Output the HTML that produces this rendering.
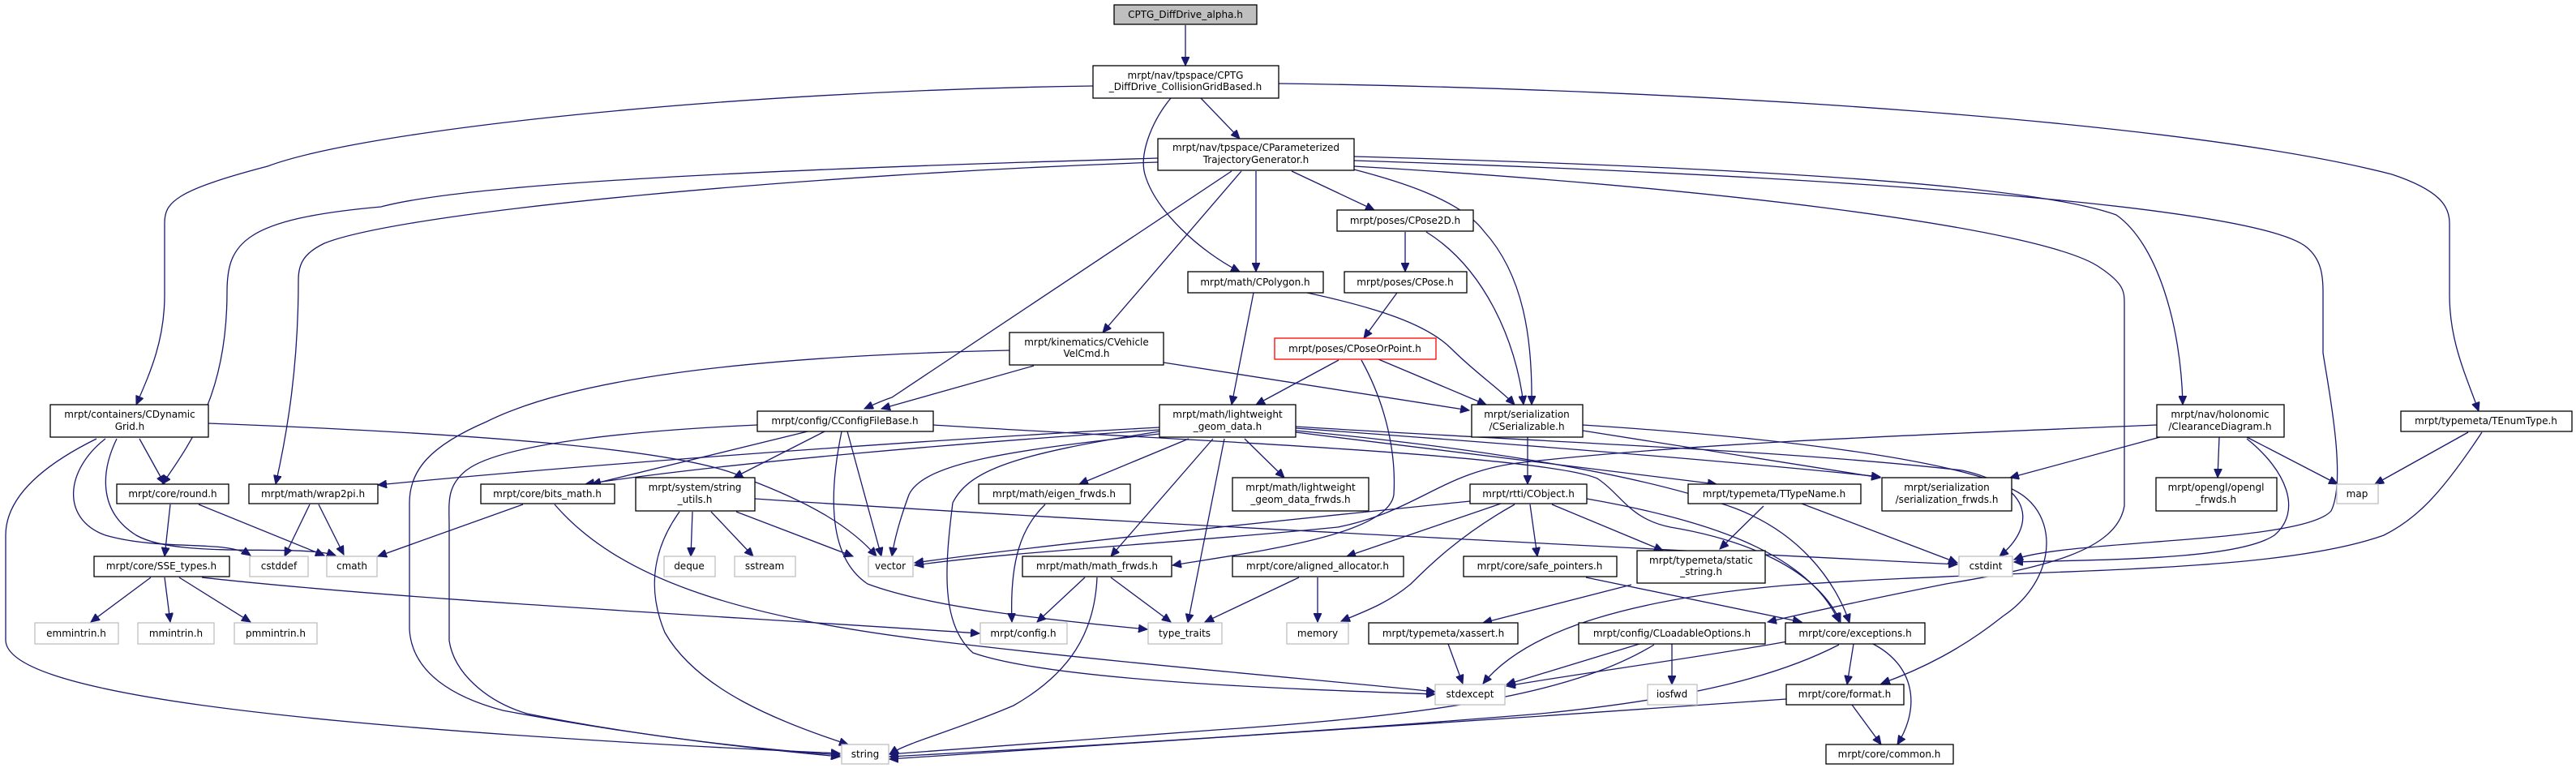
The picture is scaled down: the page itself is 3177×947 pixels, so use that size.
<!DOCTYPE html>
<html><head><meta charset="utf-8"><style>
html,body{margin:0;padding:0;background:#fff;}
svg{display:block;}
text{font-family:"DejaVu Sans","Liberation Sans",sans-serif;font-size:12px;fill:#000;text-anchor:middle;}
.e{fill:none;stroke:#191970;stroke-width:1.3;marker-end:url(#a);}
.n{fill:#fff;stroke:#000;stroke-width:1.3;}
.g{fill:#fff;stroke:#bfbfbf;stroke-width:1.3;}
</style></head><body>
<svg width="3177" height="947" viewBox="0 0 3177 947" xmlns="http://www.w3.org/2000/svg">
<defs><marker id="a" markerUnits="userSpaceOnUse" markerWidth="12" markerHeight="10" refX="11" refY="5" orient="auto"><path d="M0,0 L11,5 L0,10 z" fill="#191970" stroke="#191970"/></marker></defs>

<!-- edges -->
<path class="e" d="M1462,31 L1462,81"/>
<path class="e" d="M1481,121 L1529,171"/>
<path class="e" d="M1444,121 C1420,150 1405,190 1412,215 C1425,260 1480,310 1529,335"/>
<path class="e" d="M1348,106 C900,112 450,160 330,205 C215,235 203,250 203,275 L203,364 C203,420 185,460 168,499"/>
<path class="e" d="M1577,103 C2100,110 2700,150 2950,215 C3010,235 3021,255 3021,275 L3021,364 C3021,420 3040,460 3057,507"/>
<path class="e" d="M1593,211 L1695,259"/>
<path class="e" d="M1549,211 L1549,335"/>
<path class="e" d="M1670,209 C1720,222 1800,245 1830,285 C1880,340 1890,420 1889,499"/>
<path class="e" d="M1759,286 C1830,330 1870,420 1879,499"/>
<path class="e" d="M1612,361 C1700,380 1760,400 1790,430 C1820,460 1850,480 1868,499"/>
<path class="e" d="M1700,443 L1833,499"/>
<path class="e" d="M1435,447 L1812,506"/>
<path class="e" d="M1531,211 L1360,410"/>
<path class="e" d="M1519,211 L1100,490 C1085,495 1075,500 1066,504"/>
<path class="e" d="M1275,451 L1087,504"/>
<path class="e" d="M1428,195 C1100,205 600,220 470,255 C300,270 280,300 280,360 C280,480 240,540 200,597"/>
<path class="e" d="M1428,200 C1000,215 500,260 400,300 C375,312 368,325 368,345 C368,450 355,530 340,597"/>
<path class="e" d="M1670,193 C2100,205 2500,225 2610,265 C2660,300 2690,400 2692,499"/>
<path class="e" d="M1670,198 C2200,215 2780,250 2845,305 C2863,320 2865,340 2865,360 L2865,435 C2870,470 2895,590 2875,630 C2840,670 2550,665 2484,690"/>
<path class="e" d="M1670,205 C2100,230 2520,280 2590,330 C2620,350 2620,360 2620,375 L2620,624 C2610,680 2520,700 2400,720 C2300,740 2230,755 2180,767"/>
<path class="e" d="M1733,286 L1733,335"/>
<path class="e" d="M1723,361 L1682,417"/>
<path class="e" d="M1546,361 L1519,499"/>
<path class="e" d="M1651,444 L1549,499"/>
<path class="e" d="M1679,444 C1710,500 1722,560 1719,610 C1712,660 1550,680 1446,697"/>
<path class="e" d="M2660,524 C2400,535 2100,545 1880,570 C1780,580 1750,630 1650,650 C1450,670 1250,680 1128,697"/>
<path class="e" d="M1813,618 C1600,640 1300,670 1128,694"/>
<path class="e" d="M1466,541 L1331,597"/>
<path class="e" d="M1496,541 L1370,686"/>
<path class="e" d="M1510,541 L1465,768"/>
<path class="e" d="M1535,541 L1584,589"/>
<path class="e" d="M1430,532 C1250,560 1195,580 1175,620 C1165,700 1160,770 1200,805 C1300,840 1600,850 1770,856"/>
<path class="e" d="M1430,535 C1250,555 1140,570 1121,610 C1110,640 1103,665 1100,686"/>
<path class="e" d="M1430,527 C1100,545 700,575 466,598"/>
<path class="e" d="M1430,530 C1200,545 900,570 722,597"/>
<path class="e" d="M1598,533 L2117,597"/>
<path class="e" d="M1598,528 C1900,550 2150,570 2319,588"/>
<path class="e" d="M1598,526 C1900,545 2200,555 2420,580 C2510,600 2510,650 2466,686"/>
<path class="e" d="M1598,531 C1800,550 2000,580 2120,620 C2220,650 2265,720 2281,768"/>
<path class="e" d="M1952,524 C2200,540 2450,570 2500,615 C2540,650 2530,720 2470,760 C2420,800 2370,825 2320,843"/>
<path class="e" d="M1884,539 L1884,597"/>
<path class="e" d="M1952,531 L2319,589"/>
<path class="e" d="M1851,621 L1661,686"/>
<path class="e" d="M1868,622 C1800,660 1760,700 1740,720 C1710,745 1680,755 1654,766"/>
<path class="e" d="M1887,622 L1896,686"/>
<path class="e" d="M1914,622 L2051,679"/>
<path class="e" d="M1957,615 C2100,640 2230,680 2268,767"/>
<path class="e" d="M2175,624 L2121,677"/>
<path class="e" d="M2222,621 L2414,694"/>
<path class="e" d="M1956,712 L2222,767"/>
<path class="e" d="M1786,794 L1804,843"/>
<path class="e" d="M2012,721 L1829,768"/>
<path class="e" d="M2022,794 L1858,844"/>
<path class="e" d="M2062,794 L2062,844"/>
<path class="e" d="M2040,795 C1950,850 1800,880 1500,900 C1300,915 1150,925 1097,930"/>
<path class="e" d="M2210,790 C2100,810 1950,830 1858,846"/>
<path class="e" d="M2286,794 L2278,844"/>
<path class="e" d="M2310,794 C2360,820 2370,870 2340,918"/>
<path class="e" d="M2268,795 C2200,830 2100,860 1900,880 C1600,905 1250,925 1097,933"/>
<path class="e" d="M2284,869 L2320,918"/>
<path class="e" d="M2203,862 C1800,890 1300,925 1097,936"/>
<path class="e" d="M2664,539 L2479,589"/>
<path class="e" d="M2737,539 L2735,589"/>
<path class="e" d="M2771,539 L2883,597"/>
<path class="e" d="M2771,541 C2820,580 2840,630 2805,660 C2760,690 2600,690 2484,693"/>
<path class="e" d="M3044,533 L2929,597"/>
<path class="e" d="M3061,533 C3010,610 2980,640 2940,660 C2800,710 2500,700 2200,722 C2000,740 1880,780 1829,843"/>
<path class="e" d="M172,541 L203,597"/>
<path class="e" d="M144,541 C125,580 120,630 168,660 C220,690 370,670 414,685"/>
<path class="e" d="M130,541 C80,580 75,640 130,660 C200,680 280,665 309,685"/>
<path class="e" d="M119,541 C40,580 7,620 7,660 L7,790 C10,850 300,895 1036,929"/>
<path class="e" d="M257,522 C600,535 850,555 920,590 C1000,620 1050,650 1081,686"/>
<path class="e" d="M210,622 L203,686"/>
<path class="e" d="M245,622 L400,685"/>
<path class="e" d="M382,622 L351,686"/>
<path class="e" d="M393,622 L424,684"/>
<path class="e" d="M645,622 L466,686"/>
<path class="e" d="M684,622 C760,710 900,760 1150,790 C1400,820 1650,840 1770,853"/>
<path class="e" d="M186,712 L112,767"/>
<path class="e" d="M203,712 L210,767"/>
<path class="e" d="M221,712 L309,767"/>
<path class="e" d="M249,712 C500,740 900,760 1208,781"/>
<path class="e" d="M854,631 L852,686"/>
<path class="e" d="M877,631 L929,686"/>
<path class="e" d="M908,631 L1052,686"/>
<path class="e" d="M838,631 C810,670 795,720 820,780 C860,850 960,890 1046,918"/>
<path class="e" d="M931,615 C1300,640 1900,670 2414,696"/>
<path class="e" d="M996,532 L730,597"/>
<path class="e" d="M1017,532 L905,589"/>
<path class="e" d="M1045,532 L1087,686"/>
<path class="e" d="M1038,532 C1020,620 1025,690 1070,720 C1150,750 1300,765 1415,776"/>
<path class="e" d="M934,524 C800,530 620,545 575,580 C550,600 554,620 554,650 L554,790 C560,830 600,865 650,880 C800,910 950,925 1036,931"/>
<path class="e" d="M1151,524 C1400,540 1900,560 1970,590 C2000,610 2010,640 2060,650 C2150,665 2240,700 2270,767"/>
<path class="e" d="M1245,432 C900,440 700,470 600,520 C530,550 505,580 505,620 L505,776 C508,830 560,860 620,876 C800,910 950,925 1036,933"/>
<path class="e" d="M1338,712 L1279,767"/>
<path class="e" d="M1370,712 L1444,767"/>
<path class="e" d="M1353,712 C1350,780 1320,830 1250,870 C1180,900 1120,915 1097,930"/>
<path class="e" d="M1289,622 C1260,650 1245,690 1248,767"/>
<path class="e" d="M1602,712 L1486,767"/>
<path class="e" d="M1625,712 L1625,767"/>

<!-- nodes -->
<rect x="1374" y="6" width="176" height="24" fill="#bfbfbf" stroke="#000" stroke-width="1.3"/><text x="1462" y="22">CPTG_DiffDrive_alpha.h</text>
<rect class="n" x="1348" y="81" width="229" height="40"/><text x="1462" y="97">mrpt/nav/tpspace/CPTG</text><text x="1462" y="111">_DiffDrive_CollisionGridBased.h</text>
<rect class="n" x="1428" y="171" width="242" height="39"/><text x="1549" y="186">mrpt/nav/tpspace/CParameterized</text><text x="1549" y="201">TrajectoryGenerator.h</text>
<rect class="n" x="1649" y="259" width="168" height="26"/><text x="1733" y="276">mrpt/poses/CPose2D.h</text>
<rect class="n" x="1465" y="335" width="167" height="26"/><text x="1548" y="352">mrpt/math/CPolygon.h</text>
<rect class="n" x="1658" y="335" width="151" height="26"/><text x="1733" y="352">mrpt/poses/CPose.h</text>
<rect class="n" x="1245" y="410" width="190" height="40"/><text x="1340" y="426">mrpt/kinematics/CVehicle</text><text x="1340" y="440">VelCmd.h</text>
<rect x="1572" y="417" width="199" height="26" fill="#fff" stroke="#ff0000" stroke-width="1.3"/><text x="1671" y="434">mrpt/poses/CPoseOrPoint.h</text>
<rect class="n" x="1430" y="499" width="168" height="40"/><text x="1514" y="515">mrpt/math/lightweight</text><text x="1514" y="530">_geom_data.h</text>
<rect class="n" x="1815" y="499" width="137" height="40"/><text x="1883" y="515">mrpt/serialization</text><text x="1883" y="530">/CSerializable.h</text>
<rect class="n" x="934" y="507" width="217" height="25"/><text x="1042" y="523">mrpt/config/CConfigFileBase.h</text>
<rect class="n" x="62" y="499" width="195" height="40"/><text x="160" y="515">mrpt/containers/CDynamic</text><text x="160" y="530">Grid.h</text>
<rect class="n" x="2660" y="499" width="157" height="40"/><text x="2738" y="515">mrpt/nav/holonomic</text><text x="2738" y="530">/ClearanceDiagram.h</text>
<rect class="n" x="2961" y="507" width="211" height="25"/><text x="3066" y="523">mrpt/typemeta/TEnumType.h</text>

<rect class="n" x="144" y="597" width="138" height="24"/><text x="213" y="613">mrpt/core/round.h</text>
<rect class="n" x="307" y="597" width="159" height="24"/><text x="386" y="613">mrpt/math/wrap2pi.h</text>
<rect class="n" x="593" y="597" width="165" height="24"/><text x="675" y="613">mrpt/core/bits_math.h</text>
<rect class="n" x="784" y="589" width="147" height="41"/><text x="857" y="605">mrpt/system/string</text><text x="857" y="620">_utils.h</text>
<rect class="n" x="1207" y="597" width="187" height="24"/><text x="1300" y="613">mrpt/math/eigen_frwds.h</text>
<rect class="n" x="1520" y="589" width="168" height="41"/><text x="1604" y="605">mrpt/math/lightweight</text><text x="1604" y="620">_geom_data_frwds.h</text>
<rect class="n" x="1813" y="597" width="144" height="24"/><text x="1885" y="613">mrpt/rtti/CObject.h</text>
<rect class="n" x="2082" y="597" width="213" height="24"/><text x="2188" y="613">mrpt/typemeta/TTypeName.h</text>
<rect class="n" x="2321" y="589" width="160" height="41"/><text x="2401" y="605">mrpt/serialization</text><text x="2401" y="620">/serialization_frwds.h</text>
<rect class="n" x="2659" y="589" width="149" height="41"/><text x="2733" y="605">mrpt/opengl/opengl</text><text x="2733" y="620">_frwds.h</text>
<rect class="g" x="2882" y="597" width="51" height="24"/><text x="2907" y="613">map</text>

<rect class="n" x="116" y="686" width="167" height="25"/><text x="199" y="702">mrpt/core/SSE_types.h</text>
<rect class="g" x="308" y="686" width="72" height="25"/><text x="344" y="702">cstddef</text>
<rect class="g" x="403" y="686" width="62" height="25"/><text x="434" y="702">cmath</text>
<rect class="g" x="819" y="686" width="63" height="25"/><text x="850" y="702">deque</text>
<rect class="g" x="906" y="686" width="75" height="25"/><text x="943" y="702">sstream</text>
<rect class="g" x="1071" y="686" width="55" height="25"/><text x="1098" y="702">vector</text>
<rect class="n" x="1261" y="686" width="184" height="25"/><text x="1353" y="702">mrpt/math/math_frwds.h</text>
<rect class="n" x="1520" y="686" width="211" height="25"/><text x="1625" y="702">mrpt/core/aligned_allocator.h</text>
<rect class="n" x="1805" y="686" width="189" height="25"/><text x="1899" y="702">mrpt/core/safe_pointers.h</text>
<rect class="n" x="2019" y="679" width="158" height="40"/><text x="2098" y="695">mrpt/typemeta/static</text><text x="2098" y="709">_string.h</text>
<rect class="g" x="2416" y="686" width="66" height="25"/><text x="2449" y="702">cstdint</text>

<rect class="g" x="43" y="768" width="103" height="26"/><text x="94" y="785">emmintrin.h</text>
<rect class="g" x="170" y="768" width="94" height="26"/><text x="217" y="785">mmintrin.h</text>
<rect class="g" x="289" y="768" width="102" height="26"/><text x="340" y="785">pmmintrin.h</text>
<rect class="g" x="1209" y="768" width="107" height="26"/><text x="1262" y="785">mrpt/config.h</text>
<rect class="g" x="1416" y="768" width="91" height="26"/><text x="1461" y="785">type_traits</text>
<rect class="g" x="1587" y="768" width="76" height="26"/><text x="1625" y="785">memory</text>
<rect class="n" x="1688" y="768" width="184" height="26"/><text x="1780" y="785">mrpt/typemeta/xassert.h</text>
<rect class="n" x="1947" y="768" width="230" height="26"/><text x="2062" y="785">mrpt/config/CLoadableOptions.h</text>
<rect class="n" x="2202" y="768" width="172" height="26"/><text x="2288" y="785">mrpt/core/exceptions.h</text>

<rect class="g" x="1770" y="844" width="86" height="25"/><text x="1813" y="860">stdexcept</text>
<rect class="g" x="2032" y="844" width="61" height="25"/><text x="2062" y="860">iosfwd</text>
<rect class="n" x="2203" y="844" width="145" height="25"/><text x="2275" y="860">mrpt/core/format.h</text>

<rect class="g" x="1038" y="918" width="58" height="24"/><text x="1067" y="934">string</text>
<rect class="n" x="2252" y="918" width="157" height="24"/><text x="2330" y="934">mrpt/core/common.h</text>
</svg>
</body></html>
